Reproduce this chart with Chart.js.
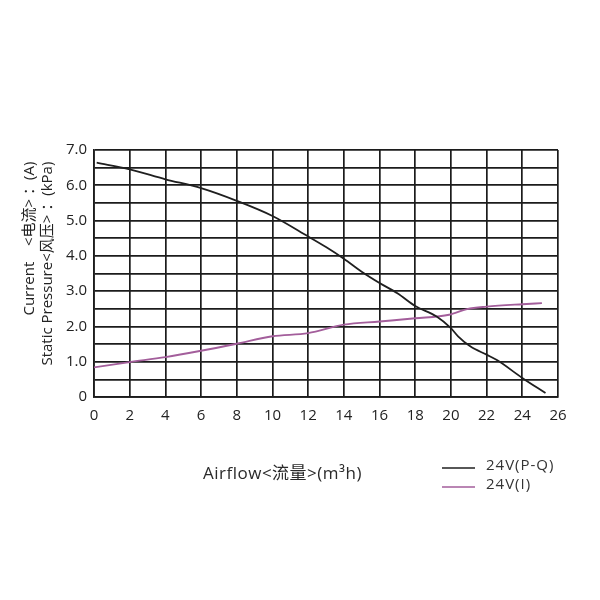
<!DOCTYPE html>
<html>
<head>
<meta charset="utf-8">
<script src="https://cdn.jsdelivr.net/npm/chart.js@4/dist/chart.umd.min.js"></script>
<style>
html,body{margin:0;padding:0;background:#fff;}
#wrap{width:600px;height:600px;}
</style>
</head>
<body>
<div id="wrap"><canvas id="c" width="600" height="600"></canvas></div>
<script>
// ---- Data ----
const pqAirflow  = [0.15, 2, 4, 6, 8, 10, 12, 13, 14, 15, 16, 17, 18, 19.2, 20, 20.4, 21.1, 22, 22.6, 24, 25.3];
const pqPressure = [6.64, 6.45, 6.17, 5.92, 5.56, 5.13, 4.55, 4.25, 3.92, 3.55, 3.23, 2.94, 2.58, 2.28, 1.95, 1.72, 1.43, 1.2, 1.04, 0.54, 0.11];

const curAirflow = [0, 2, 4, 6, 8, 10, 12, 14, 16, 18, 19.9, 20.9, 22, 24, 25.1];
const curCurrent = [0.84, 0.99, 1.13, 1.31, 1.51, 1.72, 1.81, 2.05, 2.14, 2.23, 2.33, 2.49, 2.56, 2.63, 2.66];

const seriesNames = ['24V(P-Q)', '24V(I)'];
const seriesColors = ['#1f1f1f', '#a35e9b'];
const xTitle = 'Airflow<流量>(m³h)';
const yTitle = ['Current    <电流> ：(A)   ', 'Static Pressure<风压> ：(kPa)   '];
const xMin = 0, xMax = 26, xStep = 2;
const yMin = 0, yMax = 7, yGridStep = 0.5;

const FONT = '"Open Sans", "Noto Sans CJK SC", sans-serif';
const GRID = '#1c1c1c';

function toPoints(xs, ys) { return xs.map((x, i) => ({x: x, y: ys[i]})); }

const bottomTexts = {
  id: 'bottomTexts',
  afterDraw(chart) {
    const ctx = chart.ctx;
    ctx.save();
    ctx.font = '17px ' + FONT;
    ctx.letterSpacing = '0.5px';
    ctx.fillStyle = '#2a2a2a';
    ctx.textBaseline = 'middle';
    ctx.textAlign = 'left';
    ctx.fillText(xTitle, 203, 474);
    // legend
    const rows = [467, 486];
    ctx.letterSpacing = '1px';
    chart.data.datasets.forEach((ds, i) => {
      const y = rows[i];
      ctx.strokeStyle = ds.borderColor;
      ctx.lineWidth = 1.6;
      ctx.beginPath();
      ctx.moveTo(442, y + 1);
      ctx.lineTo(475, y + 1);
      ctx.stroke();
      ctx.font = '15px ' + FONT;
      ctx.fillStyle = '#333';
      ctx.fillText(ds.label, 486, y - 1);
    });
    ctx.restore();
  }
};

new Chart(document.getElementById('c'), {
  type: 'line',
  data: {
    datasets: [
      { label: seriesNames[0], data: toPoints(pqAirflow, pqPressure), borderColor: seriesColors[0],
        borderWidth: 1.8, pointRadius: 0, fill: false, cubicInterpolationMode: 'monotone' },
      { label: seriesNames[1], data: toPoints(curAirflow, curCurrent), borderColor: seriesColors[1],
        borderWidth: 1.9, pointRadius: 0, fill: false, cubicInterpolationMode: 'monotone' }
    ]
  },
  options: {
    responsive: false,
    animation: false,
    devicePixelRatio: 1,
    layout: { padding: { left: 0, top: 150, right: 42, bottom: 173 } },
    plugins: { legend: { display: false }, tooltip: { enabled: false } },
    scales: {
      x: {
        type: 'linear', min: xMin, max: xMax,
        afterFit(s) { s.height = 30; },
        ticks: { stepSize: xStep, autoSkip: false, maxRotation: 0, padding: 10,
                 color: '#222', font: { family: FONT, size: 15 } },
        grid: { color: GRID, lineWidth: 1.7, drawTicks: false },
        border: { display: true, color: GRID, width: 1.7 }
      },
      y: {
        type: 'linear', min: yMin, max: yMax,
        afterFit(s) { s.width = 94; },
        ticks: { stepSize: yGridStep, autoSkip: false, padding: 7,
                 color: '#222', font: { family: FONT, size: 15 },
                 callback: v => (Number.isInteger(v) ? (v === 0 ? '0' : v.toFixed(1)) : '') },
        grid: { color: GRID, lineWidth: 1.7, drawTicks: false },
        border: { display: true, color: GRID, width: 1.7 },
        title: { display: true, text: yTitle, align: 'end', color: '#222',
                 font: { family: FONT, size: 15, lineHeight: 1.2 }, padding: { top: 21, bottom: 0 } }
      }
    }
  },
  plugins: [bottomTexts]
});
</script>
</body>
</html>
